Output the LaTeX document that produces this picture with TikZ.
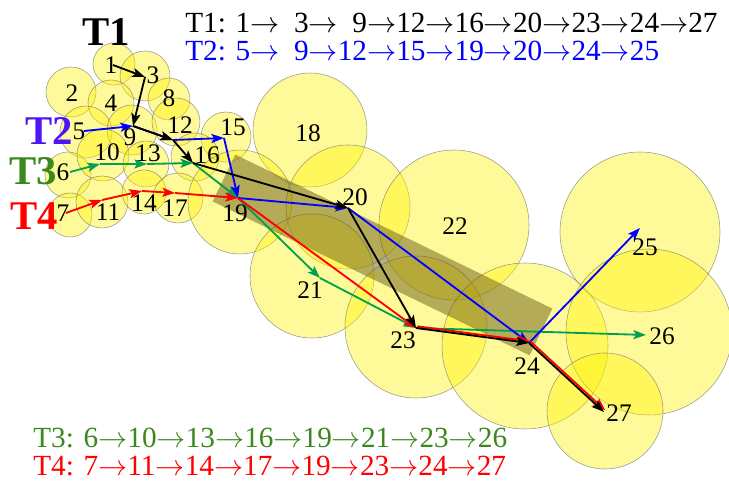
\documentclass[tikz,border=0pt]{standalone}
\usepackage{fontspec}
\setmainfont{Liberation Serif}
\usetikzlibrary{arrows.meta}
\definecolor{bandcol}{RGB}{100,85,20}
\definecolor{trgreen}{RGB}{0,160,80}
\definecolor{txgreen}{RGB}{60,135,30}
\definecolor{txblue}{RGB}{80,20,250}
\newcommand{\tarrow}{$\rightarrow$}

\begin{document}
\begin{tikzpicture}[x=0.025cm,y=-0.025cm,
  bubble/.style={fill=yellow,fill opacity=0.4,draw=black!55,draw opacity=0.7,line width=0.4pt},
  traj/.style={line width=1.3pt,-{Stealth[length=9pt,width=6.5pt,inset=2pt]}},
  num/.style={font=\fontsize{18}{20}\selectfont,inner sep=0pt},
  tname/.style={font=\fontsize{29}{30}\selectfont\bfseries,inner sep=0pt},
  route/.style={font=\fontsize{20.8}{22}\selectfont,inner sep=0pt,anchor=base west}]

\def\px{0.025cm};
\def\bandw{52};

\useasboundingbox (0,0) rectangle (729,484);

% coverage discs
\foreach \x/\y/\r in {114/64/21,71/92/25,145/76/25,111/103/23,86/132/26,68/175/23,70/215/22,
  169/99/21,132/130/25,103/155/26,102/202/26,176/122/24,146/164/23,144/192/22,226/137/25,
  195/157/24,178/198/25,310/130/57,240/202/52,348/207/62,312/276/62,454/225/75,416/327/71,
  525/346/83,640/232/80,649/332/83,605/411/58}
{
\draw [bubble] (\x,\y) circle [radius=\r*\px];
}

\draw coordinate (S) at (224,178);
\draw coordinate (E) at (541,332);
\draw [bandcol,opacity=0.48,line width=\bandw*\px] (S) -- (E);

\foreach \n/\x/\y in {1/113/65,3/145/77,5/84/131,6/70/172,7/66/213,9/133/126,10/100/164,
  11/102/200,12/173/140,13/147/164,14/142/191,15/224/138,16/193/163,17/175/193,19/238/198,
  20/348/208,21/320/278,23/416/328,24/529/343,25/640/228,26/646/335,27/604/412}
{
\draw coordinate (P\n) at (\x,\y);
}

% T3
\foreach \a/\b in {6/10,10/13,13/16,16/19,19/21,21/23,23/26}
{
\draw [traj,trgreen] (P\a) -- (P\b);
}
% T2
\foreach \a/\b in {5/9,9/12,12/15,15/19,19/20,20/24,24/25}
{
\draw [traj,blue] (P\a) -- (P\b);
}
% T4
\foreach \a/\b in {7/11,11/14,14/17,17/19,19/23}
{
\draw [traj,red] (P\a) -- (P\b);
}
\foreach \a/\b in {23/24,24/27}
{
\draw [traj,red,transform canvas={shift={(0.9pt,1.2pt)}}] (P\a) -- (P\b);
}
% T1
\foreach \a/\b in {1/3,3/9,9/12,12/16,16/20,20/23,23/24,24/27}
{
\draw [traj,black] (P\a) -- (P\b);
}

\foreach \n/\x/\y in {1/111/65,2/72/93,3/153/75,4/111/103,5/79/131,6/63/172,7/63/213,
  8/169/98,9/130/137,10/107/152,11/108/212,12/180/125,13/148/153,14/144/203,15/233/127,
  16/207/155,17/175/208,18/308/133,19/235/213,20/355/197,21/310/290,22/455/226,23/403/340,
  24/527/366,25/645/247,26/662/336,27/619/413}
{
\node [num] (L\n) at (\x,\y) {\n};
}

\node [tname] (T1) at (106,32) {T1};
\node [tname,txblue] (T2) at (49,131) {T2};
\node [tname,txgreen] (T3) at (33,171) {T3};
\node [tname,red] (T4) at (34,216) {T4};

\node [route] (R1) at (185,33) {T1: 1\tarrow\hspace{0.5em}3\tarrow\hspace{0.5em}9\tarrow12\tarrow16\tarrow20\tarrow23\tarrow24\tarrow27};
\node [route,blue] (R2) at (185,61) {T2: 5\tarrow\hspace{0.5em}9\tarrow12\tarrow15\tarrow19\tarrow20\tarrow24\tarrow25};
\node [route,txgreen] (R3) at (33,447) {T3: 6\tarrow10\tarrow13\tarrow16\tarrow19\tarrow21\tarrow23\tarrow26};
\node [route,red] (R4) at (33,475) {T4: 7\tarrow11\tarrow14\tarrow17\tarrow19\tarrow23\tarrow24\tarrow27};

\end{tikzpicture}
\end{document}
